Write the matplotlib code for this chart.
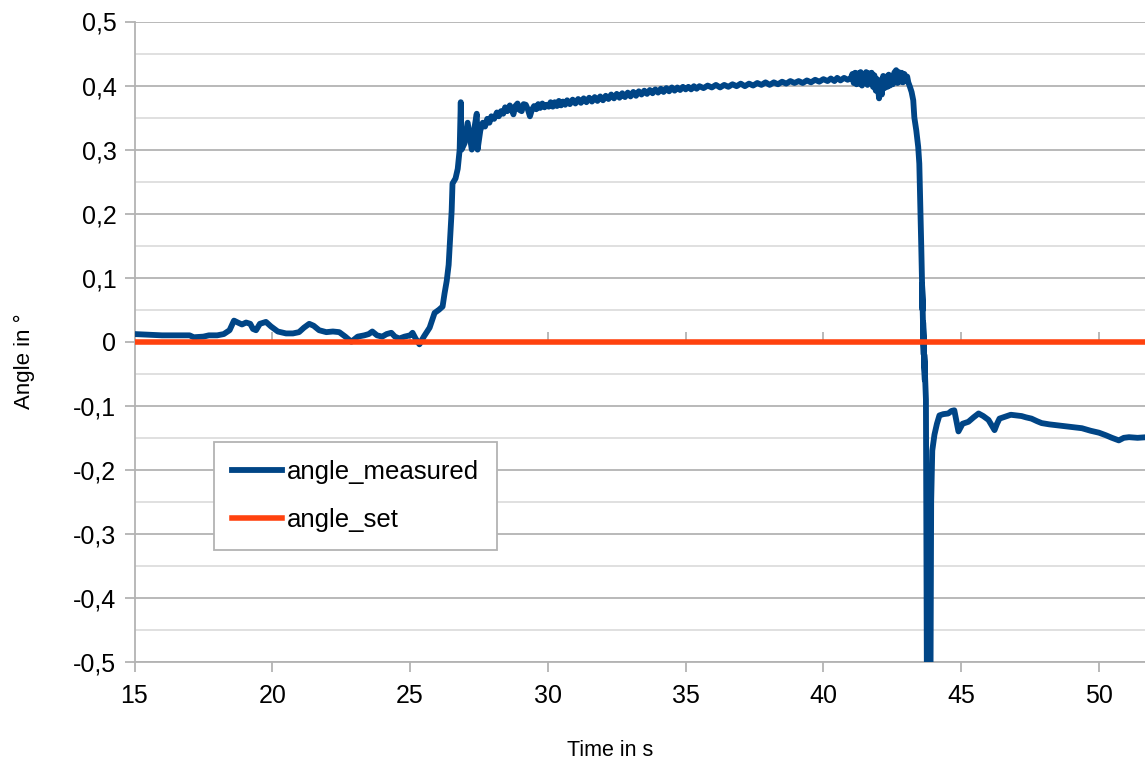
import matplotlib
matplotlib.use("Agg")
import matplotlib.pyplot as plt
from matplotlib.ticker import MultipleLocator, FuncFormatter

plt.rcParams['font.family'] = ['Liberation Sans', 'DejaVu Sans']

# ---------------- data ----------------
time_s = [
    15.0, 15.5, 16.0, 16.5, 17.0, 17.15, 17.5, 17.7, 18.0, 18.24, 18.45, 18.61,
    18.75, 18.9, 19.05, 19.2, 19.3, 19.41, 19.55, 19.77, 19.95, 20.2, 20.5, 20.75,
    20.97, 21.15, 21.34, 21.5, 21.7, 21.96, 22.2, 22.43, 22.65, 22.87, 23.1, 23.34,
    23.5, 23.63, 23.8, 23.99, 24.15, 24.32, 24.45, 24.61, 24.8, 25.0, 25.09, 25.2,
    25.34, 25.5, 25.71, 25.89, 26.05, 26.18, 26.25, 26.33, 26.4, 26.45, 26.51, 26.54,
    26.65, 26.73, 26.8, 26.84, 26.87, 26.98, 27.09, 27.17, 27.24, 27.32, 27.42, 27.45,
    27.55, 27.64, 27.72, 27.8, 27.88, 27.95, 28.05, 28.15, 28.22, 28.3, 28.38, 28.45,
    28.53, 28.62, 28.7, 28.75, 28.82, 28.9, 28.97, 29.05, 29.12, 29.2, 29.28, 29.35,
    29.42, 29.5, 29.58, 29.65, 29.72, 29.8, 29.88, 29.95, 30.03, 30.1, 30.18, 30.25,
    30.33, 30.4, 30.48, 30.55, 30.63, 30.7, 30.8, 30.9, 31.0, 31.1, 31.2, 31.3,
    31.4, 31.5, 31.6, 31.7, 31.8, 31.9, 32.0, 32.1, 32.2, 32.3, 32.4, 32.5,
    32.6, 32.7, 32.8, 32.9, 33.0, 33.1, 33.2, 33.3, 33.4, 33.5, 33.6, 33.7,
    33.8, 33.9, 34.0, 34.1, 34.2, 34.3, 34.4, 34.5, 34.6, 34.7, 34.8, 34.9,
    35.0, 35.1, 35.2, 35.3, 35.4, 35.5, 35.65, 35.8, 35.95, 36.1, 36.25, 36.4,
    36.55, 36.7, 36.85, 37.0, 37.15, 37.3, 37.45, 37.6, 37.75, 37.9, 38.05, 38.2,
    38.35, 38.5, 38.65, 38.8, 38.95, 39.1, 39.25, 39.4, 39.55, 39.7, 39.85, 40.0,
    40.15, 40.27, 40.4, 40.5, 40.62, 40.75, 40.88, 41.0, 41.05, 41.1, 41.15, 41.2,
    41.25, 41.3, 41.35, 41.4, 41.45, 41.5, 41.55, 41.6, 41.65, 41.7, 41.75, 41.8,
    41.85, 41.9, 41.95, 42.02, 42.07, 42.12, 42.17, 42.22, 42.27, 42.32, 42.37, 42.42,
    42.47, 42.52, 42.57, 42.64, 42.69, 42.74, 42.79, 42.84, 42.89, 42.94, 42.99, 43.04,
    43.08, 43.14, 43.2, 43.26, 43.3, 43.37, 43.44, 43.48, 43.55, 43.6, 43.58, 43.64,
    43.62, 43.68, 43.66, 43.72, 43.76, 43.88, 43.91, 43.95, 44.03, 44.12, 44.21, 44.35,
    44.53, 44.65, 44.75, 44.83, 44.9, 45.05, 45.26, 45.45, 45.63, 45.8, 45.99, 46.1,
    46.21, 46.3, 46.39, 46.6, 46.8, 47.0, 47.19, 47.35, 47.55, 47.75, 47.92, 48.2,
    48.6, 49.0, 49.38, 49.7, 50.0, 50.25, 50.47, 50.72, 50.9, 51.09, 51.4, 51.74,
]
angle_measured = [
    0.012, 0.011, 0.010, 0.010, 0.010, 0.007, 0.008, 0.010, 0.010, 0.012, 0.018, 0.033,
    0.030, 0.027, 0.030, 0.028, 0.020, 0.018, 0.028, 0.031, 0.024, 0.016, 0.013, 0.013,
    0.015, 0.022, 0.028, 0.025, 0.018, 0.015, 0.016, 0.015, 0.008, 0.000, 0.008, 0.010,
    0.012, 0.016, 0.010, 0.008, 0.012, 0.014, 0.008, 0.005, 0.008, 0.010, 0.014, 0.005,
    -0.004, 0.008, 0.022, 0.045, 0.050, 0.055, 0.075, 0.095, 0.120, 0.160, 0.205, 0.247,
    0.255, 0.270, 0.300, 0.374, 0.300, 0.310, 0.342, 0.320, 0.300, 0.330, 0.356, 0.300,
    0.330, 0.342, 0.336, 0.348, 0.342, 0.352, 0.348, 0.358, 0.352, 0.360, 0.356, 0.366,
    0.360, 0.369, 0.362, 0.355, 0.368, 0.372, 0.362, 0.360, 0.371, 0.370, 0.362, 0.352,
    0.362, 0.368, 0.363, 0.371, 0.365, 0.372, 0.366, 0.370, 0.367, 0.374, 0.367, 0.374,
    0.368, 0.376, 0.369, 0.375, 0.370, 0.377, 0.371, 0.378, 0.372, 0.379, 0.373, 0.380,
    0.374, 0.381, 0.375, 0.382, 0.376, 0.383, 0.377, 0.384, 0.379, 0.386, 0.380, 0.387,
    0.381, 0.388, 0.382, 0.389, 0.383, 0.390, 0.384, 0.391, 0.386, 0.392, 0.387, 0.393,
    0.388, 0.394, 0.389, 0.395, 0.390, 0.396, 0.391, 0.397, 0.392, 0.397, 0.393, 0.398,
    0.394, 0.398, 0.394, 0.399, 0.395, 0.399, 0.396, 0.400, 0.397, 0.401, 0.397, 0.401,
    0.398, 0.402, 0.399, 0.403, 0.399, 0.403, 0.400, 0.404, 0.401, 0.405, 0.401, 0.405,
    0.402, 0.406, 0.403, 0.407, 0.404, 0.407, 0.404, 0.408, 0.405, 0.409, 0.406, 0.410,
    0.407, 0.411, 0.407, 0.412, 0.408, 0.412, 0.409, 0.412, 0.418, 0.404, 0.420, 0.402,
    0.419, 0.403, 0.421, 0.400, 0.418, 0.404, 0.421, 0.401, 0.419, 0.404, 0.420, 0.398,
    0.416, 0.392, 0.410, 0.380, 0.408, 0.386, 0.415, 0.396, 0.414, 0.398, 0.417, 0.400,
    0.412, 0.402, 0.420, 0.424, 0.404, 0.421, 0.406, 0.420, 0.405, 0.418, 0.408, 0.414,
    0.405, 0.398, 0.390, 0.377, 0.350, 0.330, 0.304, 0.278, 0.150, 0.050, 0.090, -0.020,
    0.030, -0.060, -0.020, -0.090, -0.600, -0.600, -0.250, -0.170, -0.145, -0.128, -0.115, -0.113,
    -0.112, -0.108, -0.107, -0.125, -0.140, -0.128, -0.125, -0.118, -0.112, -0.116, -0.122, -0.130,
    -0.138, -0.128, -0.120, -0.117, -0.114, -0.115, -0.116, -0.118, -0.120, -0.124, -0.127, -0.129,
    -0.131, -0.133, -0.135, -0.139, -0.142, -0.146, -0.150, -0.154, -0.150, -0.149, -0.150, -0.149,
]
set_time_s = [15.0, 51.74]
angle_set = [0.0, 0.0]

y_ticks = [-0.5, -0.4, -0.3, -0.2, -0.1, 0.0, 0.1, 0.2, 0.3, 0.4, 0.5]
x_ticks = [15, 20, 25, 30, 35, 40, 45, 50]

# ---------------- figure ----------------
fig = plt.figure(figsize=(11.45, 7.64), dpi=100)
ax = fig.add_axes([134.5 / 1145, (764 - 662) / 764, 1 - 134.5 / 1145, (662 - 21.5) / 764])

BLUE = '#004586'
ORANGE = '#ff420e'
GRID = '#b3b3b3'
GRID_MINOR = '#dddddd'

ax.plot(time_s, angle_measured, color=BLUE, lw=4.2, label='angle_measured',
        solid_joinstyle='round', zorder=3)
ax.plot(set_time_s, angle_set, color=ORANGE, lw=4.0, label='angle_set', zorder=4)

ax.set_xlim(15, 51.67)
ax.set_ylim(-0.5, 0.5)
ax.set_yticks(y_ticks)
ax.set_xticks(x_ticks)
ax.yaxis.set_minor_locator(MultipleLocator(0.05))
ax.yaxis.set_major_formatter(FuncFormatter(
    lambda v, p: '0' if abs(v) < 1e-9 else ('%.1f' % v).replace('.', ',')))

ax.grid(axis='y', which='major', color=GRID, lw=1.3, zorder=0)
ax.grid(axis='y', which='minor', color=GRID_MINOR, lw=1.3, zorder=0)
ax.set_axisbelow(True)

for s in ['top', 'right']:
    ax.spines[s].set_visible(False)
for s in ['left', 'bottom']:
    ax.spines[s].set_color(GRID)
    ax.spines[s].set_linewidth(1.3)

ax.tick_params(axis='both', which='major', direction='out', length=7, width=1.3,
               color=GRID, labelsize=18, labelcolor='#000000')
ax.tick_params(axis='y', which='major', pad=6)
ax.tick_params(axis='x', which='major', pad=9)
ax.tick_params(axis='y', which='minor', length=0)

# secondary x axis drawn at y = 0 (ticks only)
sec = ax.secondary_xaxis(0.5)
sec.set_xticks(x_ticks)
sec.tick_params(direction='out', length=7, width=1.3, color=GRID, labelbottom=False,
                labeltop=False)
sec.spines['bottom'].set_visible(False)
sec.spines['top'].set_visible(False)

ax.set_xlabel('Time in s', fontsize=15.5)
ax.xaxis.set_label_coords((610 - 134.5) / 1010.5, (662 - 751) / 640.5)
ax.xaxis.label.set_va('center')
ax.set_ylabel('Angle in °', fontsize=16)
ax.yaxis.set_label_coords((24 - 134.5) / 1010.5, (662 - 361) / 640.5)
ax.yaxis.label.set_va('center')

leg = ax.legend(loc='lower left', bbox_to_anchor=((214 - 134.5) / 1010.5, (662 - 550) / 640.5),
                borderaxespad=0, fontsize=18.5, frameon=True, fancybox=False,
                handlelength=1.95, handletextpad=0.2, borderpad=0.7,
                labelspacing=0.95, framealpha=1)
leg.get_frame().set_edgecolor(GRID)
leg.get_frame().set_linewidth(1.3)

fig.savefig('out.png', dpi=100)
